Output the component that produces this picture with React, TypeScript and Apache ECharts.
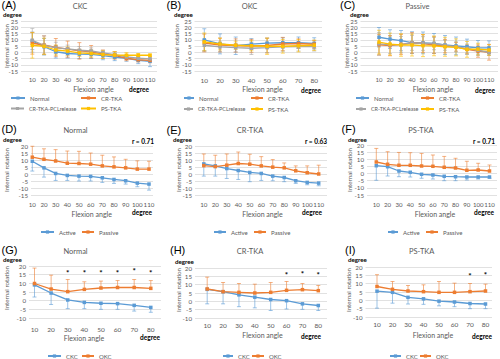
import { useEffect, useRef } from 'react';
import * as echarts from 'echarts';

// ---------- data ----------
const angles = ['10', '20', '30', '40', '50', '60', '70', '80', '90', '100', '110'];
const anglesOKC = ['10', '20', '30', '40', '50', '60', '70', '80'];

const normalCKC = [9.1, 4.4, 0.4, -1.0, -1.5, -1.7, -2.7, -3.9, -4.8, -6.5, -7.2];
const normalCKCsd = [7.0, 6.6, 5.0, 3.6, 3.5, 3.3, 3.3, 2.8, 2.4, 2.6, 4.3];
const normalOKC = [9.9, 6.7, 5.2, 6.5, 7.3, 7.6, 7.6, 7.1];
const normalOKCsd = [8.9, 8.0, 7.0, 4.4, 4.0, 4.0, 4.6, 4.5];
const normalPassive = [12.0, 10.5, 9.3, 7.7, 7.5, 7.0, 5.8, 5.1, 4.4, 3.5, 3.5];
const normalPassiveSd = [7.8, 7.5, 8.1, 8.7, 8.7, 8.0, 7.6, 7.1, 6.1, 5.9, 5.6];

const crCKC = [7.2, 5.8, 3.9, 2.5, 1.1, 0.4, -1.5, -2.5, -4.8, -6.0, -6.5];
const crCKCsd = [8.7, 7.3, 7.1, 6.4, 6.6, 5.0, 3.3, 3.0, 1.9, 1.7, 1.9];
const crOKC = [7.4, 5.8, 5.4, 5.0, 5.4, 6.6, 7.0, 6.4];
const crOKCsd = [7.1, 5.5, 5.3, 5.3, 5.9, 5.3, 3.7, 3.1];
const crPassive = [6.0, 5.3, 6.3, 7.5, 7.0, 5.8, 4.9, 4.4, 2.3, 0.9, 0.0];
const crPassiveSd = [8.3, 8.1, 8.0, 8.2, 7.1, 6.6, 5.4, 3.5, 3.5, 4.9, 6.3];

const pclCKC = [9.6, 5.6, 3.5, 2.7, 1.6, 1.0, -0.5, -1.9, -3.7, -4.8, -5.3];
const pclCKCsd = [9.5, 7.5, 4.5, 3.0, 3.0, 2.5, 2.0, 2.0, 1.5, 1.5, 1.5];
const pclOKC = [5.6, 4.3, 3.7, 3.2, 3.7, 4.3, 4.5, 4.5];
const pclOKCsd = [4.5, 4.0, 3.5, 5.0, 4.0, 3.5, 3.5, 3.5];
const pclPassive = [6.7, 5.9, 6.1, 7.5, 7.0, 7.0, 5.6, 4.3, 3.0, 1.6, 0.0];
const pclPassiveSd = [9.0, 7.0, 6.5, 6.0, 5.5, 5.0, 4.0, 4.0, 3.5, 3.0, 2.5];

const psCKC = [5.5, 4.8, 1.8, 0.9, -0.5, -1.0, -1.9, -2.2, -2.4, -2.4, -2.4];
const psCKCsd = [10.2, 6.5, 4.0, 3.3, 2.8, 2.8, 3.1, 2.8, 2.1, 1.4, 0.9];
const psOKC = [8.3, 6.6, 5.6, 5.2, 4.8, 4.8, 5.2, 5.6];
const psOKCsd = [7.1, 4.7, 3.3, 4.1, 6.5, 5.5, 4.9, 4.1];
const psPassive = [8.1, 6.5, 5.8, 5.8, 5.3, 5.1, 4.4, 3.9, 2.3, 2.5, 1.8];
const psPassiveSd = [9.5, 8.8, 9.0, 8.8, 8.8, 7.9, 7.6, 6.8, 6.3, 4.7, 4.2];

const sigG = ['30', '40', '50', '60', '70', '80'];
const sigGy = [17, 17, 17, 17, 18, 17];
const sigH = ['60', '70', '80'];
const sigHy = [16.8, 17.2, 16.8];
const sigI = ['70', '80'];
const sigIy = [15.8, 16];

const rD = 'r = 0.71';
const rE = 'r = 0.63';
const rF = 'r = 0.71';

// ---------- style ----------
const BLUE = '#5B9BD5';
const ORANGE = '#ED7D31';
const GRAY = '#A5A5A5';
const YELLOW = '#FFC000';
const TXT = '#595959';
const FONT = 'Lato, "Noto Sans", sans-serif';

type Dir = 'both' | 'up' | 'down';
interface LineDef { name: string; color: string; mean: number[]; sd: number[]; dir: Dir }
interface LegendPos { name: string; x: number; y: number; w: number; fs?: number }
interface PanelDef {
  cats: string[]; firstX: number; lastX: number; glLeft: number; glRight: number;
  top: number; height: number; min: number; max: number; xMargin: number; xFont: number;
  lines: LineDef[]; sig?: { cats: string[]; y: number[] };
  legend: LegendPos[];
}

const L = (name: string, color: string, mean: number[], sd: number[], dir: Dir): LineDef => ({ name, color, mean, sd, dir });

const panels: PanelDef[] = [
  { // A
    cats: angles, firstX: 32.3, lastX: 150, glLeft: 21, glRight: 157, top: 21, height: 50, min: -15, max: 25, xMargin: 5.5, xFont: 6.2,
    lines: [L('Normal', BLUE, normalCKC, normalCKCsd, 'both'), L('CR-TKA', ORANGE, crCKC, crCKCsd, 'both'),
      L('CR-TKA-PCLrelease', GRAY, pclCKC, pclCKCsd, 'both'), L('PS-TKA', YELLOW, psCKC, psCKCsd, 'both')],
    legend: [{ name: 'Normal', x: 10, y: 98, w: 14 }, { name: 'CR-TKA', x: 80, y: 98, w: 15 },
      { name: 'CR-TKA-PCLrelease', x: 10, y: 108.5, w: 13, fs: 5.4 }, { name: 'PS-TKA', x: 80, y: 108.5, w: 15 }],
  },
  { // B
    cats: anglesOKC, firstX: 204.3, lastX: 314.2, glLeft: 194.5, glRight: 322, top: 21, height: 50, min: -15, max: 25, xMargin: 5.5, xFont: 6.5,
    lines: [L('Normal', BLUE, normalOKC, normalOKCsd, 'both'), L('CR-TKA', ORANGE, crOKC, crOKCsd, 'both'),
      L('CR-TKA-PCLrelease', GRAY, pclOKC, pclOKCsd, 'both'), L('PS-TKA', YELLOW, psOKC, psOKCsd, 'both')],
    legend: [{ name: 'Normal', x: 183, y: 98, w: 10 }, { name: 'CR-TKA', x: 250, y: 98, w: 12 },
      { name: 'CR-TKA-PCLrelease', x: 183, y: 109, w: 9, fs: 5.4 }, { name: 'PS-TKA', x: 250, y: 109, w: 12 }],
  },
  { // C
    cats: angles, firstX: 379, lastX: 489, glLeft: 360.5, glRight: 498, top: 21, height: 50, min: -15, max: 25, xMargin: 5.5, xFont: 6,
    lines: [L('Normal', BLUE, normalPassive, normalPassiveSd, 'both'), L('CR-TKA', ORANGE, crPassive, crPassiveSd, 'both'),
      L('CR-TKA-PCLrelease', GRAY, pclPassive, pclPassiveSd, 'both'), L('PS-TKA', YELLOW, psPassive, psPassiveSd, 'both')],
    legend: [{ name: 'Normal', x: 355, y: 98, w: 13 }, { name: 'CR-TKA', x: 420, y: 98, w: 13 },
      { name: 'CR-TKA-PCLrelease', x: 355, y: 109, w: 10, fs: 5.4 }, { name: 'PS-TKA', x: 420, y: 109, w: 13 }],
  },
  { // D
    cats: angles, firstX: 32.3, lastX: 149, glLeft: 31, glRight: 153, top: 146, height: 49, min: -15, max: 20, xMargin: 6.5, xFont: 6.2,
    lines: [L('Active', BLUE, normalCKC, normalCKCsd, 'down'), L('Passive', ORANGE, normalPassive, normalPassiveSd, 'up')],
    legend: [{ name: 'Active', x: 40, y: 232, w: 13 }, { name: 'Passive', x: 81, y: 232, w: 12 }],
  },
  { // E
    cats: angles, firstX: 203.8, lastX: 318.7, glLeft: 195, glRight: 327, top: 146, height: 49, min: -15, max: 20, xMargin: 6.5, xFont: 6.2,
    lines: [L('Active', BLUE, crCKC, crCKCsd, 'down'), L('Passive', ORANGE, crPassive, crPassiveSd, 'up')],
    legend: [{ name: 'Active', x: 213, y: 232, w: 12 }, { name: 'Passive', x: 253, y: 232, w: 12 }],
  },
  { // F
    cats: angles, firstX: 376.3, lastX: 489.5, glLeft: 367, glRight: 497, top: 145, height: 50, min: -15, max: 20, xMargin: 6.5, xFont: 6.1,
    lines: [L('Active', BLUE, psCKC, psCKCsd, 'down'), L('Passive', ORANGE, psPassive, psPassiveSd, 'up')],
    legend: [{ name: 'Active', x: 387, y: 232, w: 10 }, { name: 'Passive', x: 425, y: 232, w: 12 }],
  },
  { // G
    cats: anglesOKC, firstX: 34.5, lastX: 150.8, glLeft: 29, glRight: 161, top: 266, height: 52, min: -10, max: 20, xMargin: 7.5, xFont: 6.5,
    lines: [L('CKC', BLUE, normalCKC.slice(0, 8), normalCKCsd.slice(0, 8), 'down'), L('OKC', ORANGE, normalOKC, normalOKCsd, 'up')],
    sig: { cats: sigG, y: sigGy },
    legend: [{ name: 'CKC', x: 47, y: 356, w: 13 }, { name: 'OKC', x: 81, y: 356, w: 12 }],
  },
  { // H
    cats: anglesOKC, firstX: 207.2, lastX: 318.3, glLeft: 195, glRight: 327, top: 268, height: 50, min: -10, max: 20, xMargin: 4, xFont: 6.5,
    lines: [L('CKC', BLUE, crCKC.slice(0, 8), crCKCsd.slice(0, 8), 'down'), L('OKC', ORANGE, crOKC, crOKCsd, 'up')],
    sig: { cats: sigH, y: sigHy },
    legend: [{ name: 'CKC', x: 222, y: 356, w: 10 }, { name: 'OKC', x: 251, y: 356, w: 12 }],
  },
  { // I
    cats: anglesOKC, firstX: 377, lastX: 485.5, glLeft: 365.5, glRight: 492, top: 267, height: 50, min: -10, max: 20, xMargin: 4, xFont: 6.5,
    lines: [L('CKC', BLUE, psCKC.slice(0, 8), psCKCsd.slice(0, 8), 'down'), L('OKC', ORANGE, psOKC, psOKCsd, 'up')],
    sig: { cats: sigI, y: sigIy },
    legend: [{ name: 'CKC', x: 389, y: 356, w: 11 }, { name: 'OKC', x: 419, y: 356, w: 11 }],
  },
];

// text annotations
const letters: [string, number, number][] = [
  ['(A)', 1.5, 4.5], ['(B)', 166.5, 4.5], ['(C)', 340, 4.5],
  ['(D)', 1.5, 128.5], ['(E)', 166.5, 130], ['(F)', 341.5, 128.5],
  ['(G)', 1.5, 249.5], ['(H)', 170, 250], ['(I)', 345, 250],
];
const titles: [string, number, number][] = [
  ['CKC', 80, 6.5], ['OKC', 249.5, 6.5], ['Passive', 417.5, 6.5],
  ['Normal', 75.5, 130.5], ['CR-TKA', 250, 130.5], ['PS-TKA', 421, 130.5],
  ['Normal', 75.5, 251.7], ['CR-TKA', 250, 251.7], ['PS-TKA', 421.7, 251.7],
];
const topDegree: [number, number][] = [
  [3, 14.5], [174, 14.5], [350, 14.5], [3, 139.5], [173, 139.5], [348, 139.5], [3, 259.5], [175, 261], [348, 259.5],
];
const xTitle: [number, number][] = [
  [93.5, 89], [262.5, 89], [433, 89], [91.7, 214], [262.5, 214], [435, 214], [84, 337.7], [262.5, 335], [433, 335],
];
const bottomDegree: [number, number][] = [
  [139, 89.5], [311, 90], [485, 90], [142, 212.7], [312, 212.7], [484, 212.7], [150, 337.7], [311, 336.7], [482, 336.7],
];
const yTitle: [number, number][] = [
  [6, 46], [176, 46], [346, 46], [6, 170], [178, 170], [349, 170], [6, 288], [178, 290], [348, 290],
];
const rTexts: [string, number, number][] = [[rD, 143, 141.7], [rE, 316, 141.7], [rF, 484, 141.7]];

function txt(text: string, x: number, y: number, o: any = {}) {
  return {
    type: 'text', x, y, rotation: o.rot || 0, silent: true,
    style: {
      text, fill: o.fill || TXT, fontSize: o.size || 7, fontFamily: o.family || FONT,
      fontWeight: o.weight || 'normal', fontStyle: o.style || 'normal',
      align: o.align || 'center', textAlign: o.align || 'center',
      verticalAlign: 'middle', textVerticalAlign: 'middle',
    },
  };
}

function buildOption() {
  const grid: any[] = [];
  const xAxis: any[] = [];
  const yAxis: any[] = [];
  const series: any[] = [];
  const legend: any[] = [];

  panels.forEach((p, i) => {
    const bg = 2 * i;
    const dg = 2 * i + 1;
    grid.push({ left: p.glLeft, top: p.top, width: p.glRight - p.glLeft, height: p.height });
    grid.push({ left: p.firstX, top: p.top, width: p.lastX - p.firstX, height: p.height });
    xAxis.push({ type: 'value', gridIndex: bg, show: false, min: 0, max: 1 });
    xAxis.push({
      type: 'category', gridIndex: dg, data: p.cats, boundaryGap: false,
      axisLine: { show: false }, axisTick: { show: false }, splitLine: { show: false },
      axisLabel: { fontSize: p.xFont, color: TXT, fontFamily: FONT, margin: p.xMargin, interval: 0, hideOverlap: false },
    });
    yAxis.push({
      type: 'value', gridIndex: bg, min: p.min, max: p.max, interval: 5,
      axisLine: { show: false }, axisTick: { show: false },
      axisLabel: { fontSize: 6.2, color: TXT, fontFamily: FONT, margin: 3 },
      splitLine: { show: true, lineStyle: { color: '#D9D9D9', width: 0.8 } },
    });
    yAxis.push({ type: 'value', gridIndex: dg, min: p.min, max: p.max, interval: 5, show: false, splitLine: { show: false } });

    p.lines.forEach((l, j) => {
      const both = l.dir === 'both';
      const data = l.mean.map((m, k) => {
        const s = l.sd[k];
        if (l.dir === 'both') return [k, m - s, m + s];
        if (l.dir === 'up') return [k, m, m + s];
        return [k, m, m - s];
      });
      series.push({
        type: 'custom', name: `err-${i}-${j}`, xAxisIndex: dg, yAxisIndex: dg, silent: true, z: 2,
        encode: { x: 0, y: [1, 2] }, data,
        renderItem: (_params: any, api: any) => {
          const k = api.value(0);
          const p1 = api.coord([k, api.value(1)]);
          const p2 = api.coord([k, api.value(2)]);
          const w = 2;
          const st = { stroke: l.color, lineWidth: 0.8, opacity: 0.75 };
          const ch: any[] = [
            { type: 'line', shape: { x1: p1[0], y1: p1[1], x2: p2[0], y2: p2[1] }, style: st },
            { type: 'line', shape: { x1: p2[0] - w, y1: p2[1], x2: p2[0] + w, y2: p2[1] }, style: st },
          ];
          if (both) ch.push({ type: 'line', shape: { x1: p1[0] - w, y1: p1[1], x2: p1[0] + w, y2: p1[1] }, style: st });
          return { type: 'group', children: ch };
        },
      });
    });
    p.lines.forEach((l) => {
      series.push({
        type: 'line', name: l.name, xAxisIndex: dg, yAxisIndex: dg, data: l.mean, z: 3,
        symbol: 'rect', symbolSize: 3.5, showSymbol: true,
        lineStyle: { color: l.color, width: 1.3 }, itemStyle: { color: l.color },
      });
    });
    if (p.sig) {
      const sig = p.sig;
      series.push({
        type: 'custom', name: `sig-${i}`, xAxisIndex: dg, yAxisIndex: dg, silent: true, z: 4,
        encode: { x: 0, y: 1 },
        data: sig.cats.map((c, k) => [p.cats.indexOf(c), sig.y[k]]),
        renderItem: (_params: any, api: any) => {
          const pt = api.coord([api.value(0), api.value(1)]);
          return {
            type: 'text', x: pt[0], y: pt[1] + 1.5,
            style: { text: '*', fill: '#000', fontSize: 8, fontFamily: FONT, fontWeight: 'bold', align: 'center', verticalAlign: 'middle' },
          };
        },
      });
    }
    p.legend.forEach((it) => {
      legend.push({
        data: [it.name], left: it.x, top: it.y - 4, padding: 0, itemWidth: it.w, itemHeight: 4,
        selectedMode: false, textStyle: { fontSize: it.fs || 6, color: TXT, fontFamily: FONT, lineHeight: 8 },
      });
    });
  });

  const elements: any[] = [];
  letters.forEach(([t, x, y]) => elements.push(txt(t, x, y, { size: 11, fill: '#000', align: 'left', family: '"Liberation Sans", Arial, sans-serif' })));
  titles.forEach(([t, x, y]) => elements.push(txt(t, x, y, { size: 7.5 })));
  topDegree.forEach(([x, y]) => elements.push(txt('degree', x, y, { size: 6.2, fill: '#000', weight: 'bold', align: 'left' })));
  xTitle.forEach(([x, y]) => elements.push(txt('Flexion angle', x, y, { size: 7 })));
  bottomDegree.forEach(([x, y]) => elements.push(txt('degree', x, y, { size: 6.5, fill: '#000', weight: 'bold' })));
  yTitle.forEach(([x, y]) => elements.push(txt('Internal rotation', x, y, { size: 6.2, rot: Math.PI / 2 })));
  rTexts.forEach(([t, x, y]) => elements.push(txt(t, x, y, { size: 6.5, fill: '#000', weight: 'bold' })));

  return {
    animation: false,
    backgroundColor: '#ffffff',
    grid, xAxis, yAxis, series, legend,
    graphic: { elements },
  };
}

export default function App() {
  const ref = useRef<HTMLDivElement>(null);
  useEffect(() => {
    if (!ref.current) return;
    const chart = echarts.init(ref.current, undefined, { renderer: 'svg' });
    chart.setOption(buildOption() as any);
    return () => chart.dispose();
  }, []);
  return <div ref={ref} style={{ position: 'absolute', left: 0, top: 0, width: 500, height: 359 }} />;
}
